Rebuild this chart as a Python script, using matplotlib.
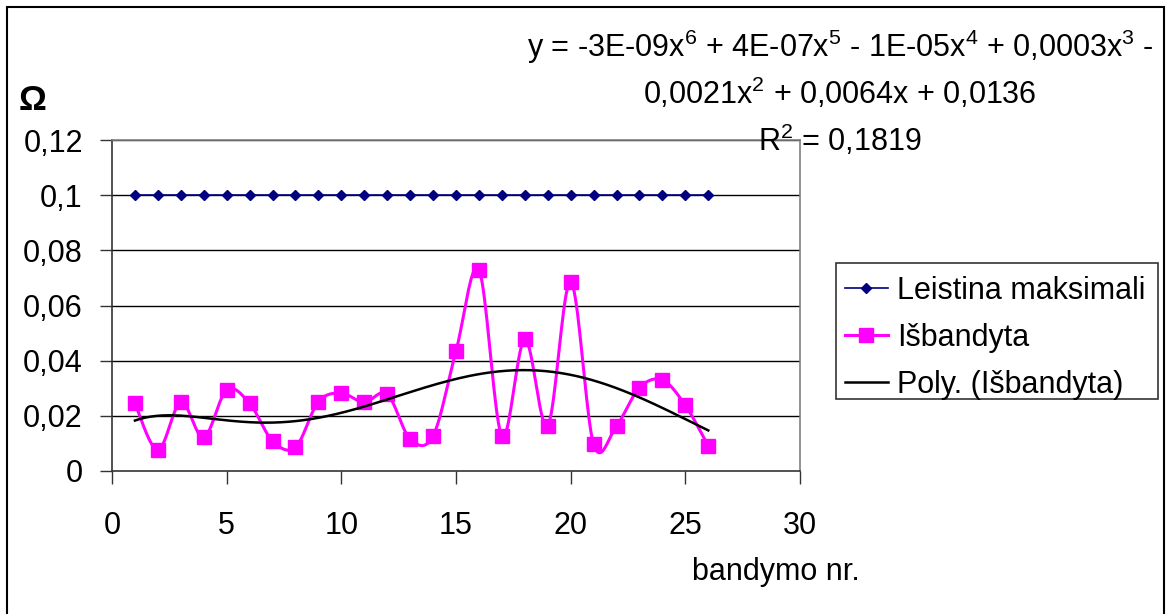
import numpy as np
import matplotlib
matplotlib.use("Agg")
import matplotlib.pyplot as plt
from matplotlib.patches import Rectangle
from matplotlib.lines import Line2D

plt.rcParams['font.family'] = ['Liberation Sans', 'DejaVu Sans']
plt.rcParams['mathtext.fontset'] = 'custom'
plt.rcParams['mathtext.rm'] = 'Liberation Sans'
plt.rcParams['mathtext.it'] = 'Liberation Sans:italic'
plt.rcParams['mathtext.bf'] = 'Liberation Sans:bold'

# ---- data ----
bandymas = list(range(1, 27))
leistina = [0.1] * 26
isbandyta = [0.0245, 0.0076, 0.0249, 0.0122, 0.0294, 0.0245, 0.0109, 0.0086,
             0.0251, 0.0282, 0.0249, 0.0279, 0.0116, 0.0127, 0.0435, 0.0729,
             0.0127, 0.0477, 0.0164, 0.0686, 0.0097, 0.0164, 0.0302, 0.0330,
             0.0238, 0.0091]
x_ticks = [0, 5, 10, 15, 20, 25, 30]
y_ticks = [0, 0.02, 0.04, 0.06, 0.08, 0.1, 0.12]
y_ticklabels = ['0', '0,02', '0,04', '0,06', '0,08', '0,1', '0,12']
labels = ['Leistina maksimali', 'Išbandyta', 'Poly. (Išbandyta)']
equation = [r'y = -3E-09x$^{6}$ + 4E-07x$^{5}$ - 1E-05x$^{4}$ + 0,0003x$^{3}$ -',
            r'0,0021x$^{2}$ + 0,0064x + 0,0136',
            r'R$^{2}$ = 0,1819']

FS = 22


def smooth(xs, ys, n=20):
    """Excel-like Bezier smoothing through the data points."""
    xs = np.asarray(xs, float)
    ys = np.asarray(ys, float)
    P = np.column_stack([xs, ys])
    out = []
    for i in range(len(P) - 1):
        p0 = P[i - 1] if i > 0 else P[i]
        p1 = P[i]
        p2 = P[i + 1]
        p3 = P[i + 2] if i + 2 < len(P) else P[i + 1]
        c1 = p1 + (p2 - p0) / 6.0
        c2 = p2 - (p3 - p1) / 6.0
        t = np.linspace(0, 1, n, endpoint=(i == len(P) - 2))[:, None]
        b = ((1 - t) ** 3) * p1 + 3 * ((1 - t) ** 2) * t * c1 + 3 * (1 - t) * t ** 2 * c2 + t ** 3 * p2
        out.append(b)
    out = np.vstack(out)
    return out[:, 0], out[:, 1]


W, H = 1173, 614
fig = plt.figure(figsize=(W / 100, H / 100), dpi=100)
ax = fig.add_axes([112 / W, 1 - 471 / H, (800 - 112) / W, (471 - 140) / H])

# gridlines
for yv in y_ticks[1:]:
    ax.axhline(yv, color='black', lw=1.0, zorder=1)

# series 1
ax.plot(bandymas, leistina, color='#000080', lw=1.2, marker='D', markersize=5,
        markerfacecolor='#000080', markeredgecolor='#000080', zorder=3)

# series 2 smoothed
sx, sy = smooth(bandymas, isbandyta)
ax.plot(sx, sy, color='#FF00FF', lw=2.2, zorder=3)
ax.plot(bandymas, isbandyta, ls='none', marker='s', markersize=9.5,
        color='#FF00FF', zorder=4)

# polynomial trendline
coef = np.polyfit(bandymas, isbandyta, 6)
xf = np.linspace(1, 26, 300)
ax.plot(xf, np.polyval(coef, xf), color='black', lw=1.8, zorder=5)

ax.set_xlim(0, 30)
ax.set_ylim(0, 0.12)
ax.set_xticks(x_ticks)
ax.set_xticklabels([str(v) for v in x_ticks])
ax.set_yticks(y_ticks)
ax.set_yticklabels(y_ticklabels)
ax.tick_params(axis='both', labelsize=FS, direction='out', length=9, width=1, color='#333333')
ax.tick_params(axis='x', pad=20)
ax.tick_params(axis='y', pad=12)
for s in ['top', 'right']:
    ax.spines[s].set_color('#808080')
    ax.spines[s].set_linewidth(1.2)
for s in ['left', 'bottom']:
    ax.spines[s].set_color('#333333')
    ax.spines[s].set_linewidth(1.2)

# axis titles
fig.text(32 / W, 1 - 100 / H, 'Ω', fontsize=25, fontweight='bold', ha='center', va='center')
fig.text(776 / W, 1 - 572 / H, 'bandymo nr.', fontsize=FS, ha='center', va='center')

# equation
for i, line in enumerate(equation):
    fig.text(840 / W, 1 - (47 + 46.5 * i) / H, line, fontsize=FS, ha='center', va='center')

# legend
handles = [Line2D([], [], color='#000080', lw=1.2, marker='D', markersize=5),
           Line2D([], [], color='#FF00FF', lw=2.2, marker='s', markersize=9.5),
           Line2D([], [], color='black', lw=1.8)]
leg = fig.legend(handles, labels, loc='upper left', bbox_to_anchor=(845 / W, 1 - 276 / H),
                 frameon=False, fontsize=FS, handlelength=1.4, handletextpad=0.3,
                 labelspacing=0.55, borderpad=0, borderaxespad=0)
fig.add_artist(Rectangle((836 / W, 1 - 399 / H), (1158 - 836) / W, (399 - 263) / H,
                         transform=fig.transFigure, fill=False, edgecolor='#333333', lw=1.2))

# chart frame
fig.add_artist(Rectangle((7 / W, -0.05), (1164 - 7) / W, 1 - 7 / H + 0.05,
                         transform=fig.transFigure, fill=False, edgecolor='black', lw=1.5))

fig.savefig('out.png', dpi=100)
